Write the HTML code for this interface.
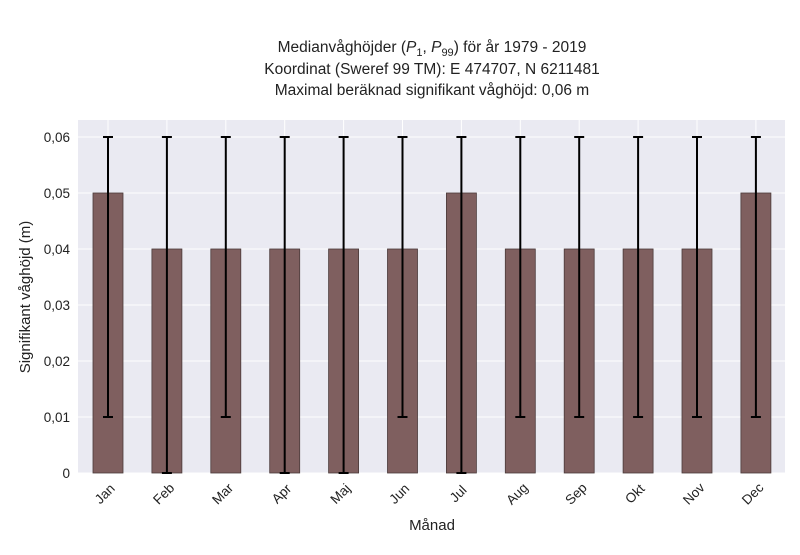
<!DOCTYPE html>
<html><head><meta charset="utf-8"><style>
body{margin:0;background:#fff;}
svg text{font-family:"Liberation Sans",sans-serif;fill:#222;}
</style></head><body>
<svg id="chart" width="800" height="550">
<g>
<text x="432" y="52" text-anchor="middle" font-size="15.5">Medianvåghöjder (<tspan font-style="italic">P</tspan><tspan font-size="11" dy="4">1</tspan><tspan dy="-4">, </tspan><tspan font-style="italic">P</tspan><tspan font-size="11" dy="4">99</tspan><tspan dy="-4">) för år 1979 - 2019</tspan></text>
<text x="432" y="74" text-anchor="middle" font-size="15.5">Koordinat (Sweref 99 TM): E 474707, N 6211481</text>
<text x="432" y="95" text-anchor="middle" font-size="15.5">Maximal beräknad signifikant våghöjd: 0,06 m</text>
</g>
<rect x="78" y="120" width="707" height="353" fill="#eaeaf2"/>
<g id="grid"></g><g id="bars"></g><g id="err"></g><g id="axes"></g>
<text x="432" y="530" text-anchor="middle" font-size="15">Månad</text>
<text transform="translate(30,297) rotate(-90)" text-anchor="middle" font-size="15">Signifikant våghöjd (m)</text>
</svg>
<script>
const months=["Jan","Feb","Mar","Apr","Maj","Jun","Jul","Aug","Sep","Okt","Nov","Dec"];
const medians=[0.05,0.04,0.04,0.04,0.04,0.04,0.05,0.04,0.04,0.04,0.04,0.05];
const p1=[0.01,0,0.01,0,0,0.01,0,0.01,0.01,0.01,0.01,0.01];
const p99=[0.06,0.06,0.06,0.06,0.06,0.06,0.06,0.06,0.06,0.06,0.06,0.06];
const yTicks=[0,0.01,0.02,0.03,0.04,0.05,0.06];
const yTickLabels=["0","0,01","0,02","0,03","0,04","0,05","0,06"];
const NS="http://www.w3.org/2000/svg";
const y=v=>473-v*5600;
const x=i=>108+i*58.9;
function mk(p,t,a){const e=document.createElementNS(NS,t);for(const k in a)e.setAttribute(k,a[k]);document.getElementById(p).appendChild(e);return e;}
yTicks.forEach((v,i)=>{
  const l=mk('grid','line',{x1:78,x2:785,y1:y(v),y2:y(v),stroke:'#fff','stroke-width':1});
  
  
  const t=mk('axes','text',{x:70,y:y(v)+5,'text-anchor':'end','font-size':13.5});
  t.textContent=yTickLabels[i];
  
  
});
months.forEach((m,i)=>{
  const g=mk('grid','line',{x1:x(i),x2:x(i),y1:120,y2:473,stroke:'#fff','stroke-width':1});
  
  
  const b=mk('bars','rect',{x:x(i)-15,y:y(medians[i]),width:30,height:473-y(medians[i]),fill:'#7f5f5f',stroke:'#4a3a3a','stroke-width':0.8});
  
  
  const e=mk('err','line',{x1:x(i),x2:x(i),y1:y(p1[i]),y2:y(p99[i]),stroke:'#000','stroke-width':2});
  
  
  [p1[i],p99[i]].forEach(v=>{
    const c=mk('err','line',{x1:x(i)-5,x2:x(i)+5,y1:y(v),y2:y(v),stroke:'#000','stroke-width':2});
    
    
  });
  const t=mk('axes','text',{'text-anchor':'middle','font-size':13.5,transform:`translate(${x(i)},${497}) rotate(-45)`});
  t.textContent=m;
  
  
});
</script>
</body></html>
